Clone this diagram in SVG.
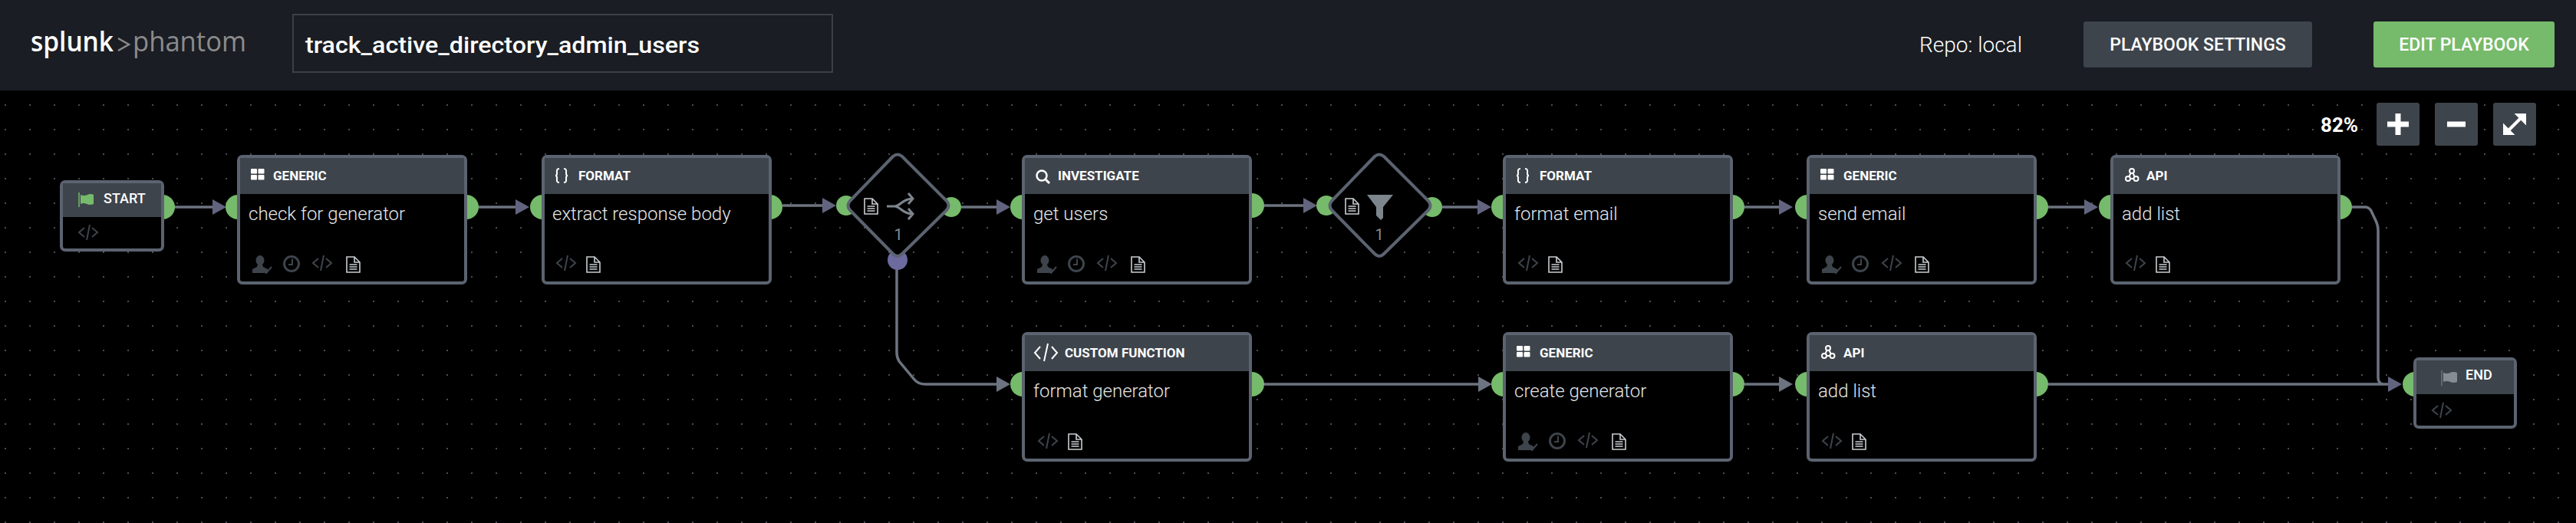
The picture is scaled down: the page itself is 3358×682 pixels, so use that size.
<svg xmlns="http://www.w3.org/2000/svg" width="3358" height="682" viewBox="0 0 3358 682">
<style>
text{font-family:Roboto,"Liberation Sans",sans-serif}
.box{fill:#000;stroke:#5c6370;stroke-width:4}
.hd{fill:#3e444c}
.kind{fill:#fff;font-size:17px;font-weight:700}
.se{fill:#fff;font-size:18px;font-weight:500}
.name{fill:#e4e6e8;font-size:24px;font-weight:300}
.port{fill:#76ba6b}
.wire{fill:none;stroke:#6d7380;stroke-width:3.5}
.dia{fill:#000;stroke:#5c6370;stroke-width:4;stroke-linejoin:round}
.num{fill:#868c93;font-size:20px;text-anchor:middle}
.code{fill:none;stroke:#3e444c;stroke-width:2}
.doc{fill:none;stroke:#c9cdd1;stroke-width:1.6}
.dim{fill:#3e444c}
.btxt{fill:#fff;font-size:23px;font-weight:500;text-anchor:middle}
.tb{fill:#3e444c}
</style>
<defs>
<pattern id="dots" x="0" y="0" width="32" height="32" patternUnits="userSpaceOnUse"><rect x="6" y="8" width="2" height="2" fill="#4a4d52"/></pattern>
<marker id="ap" markerUnits="userSpaceOnUse" markerWidth="20" markerHeight="22" refX="2" refY="10" orient="auto"><path d="M0 0L18 10L0 20Z" fill="#62647f"/></marker>
<marker id="ag" markerUnits="userSpaceOnUse" markerWidth="20" markerHeight="22" refX="2" refY="10" orient="auto"><path d="M0 0L18 10L0 20Z" fill="#6d7380"/></marker>
<g id="i-code" class="code"><path d="M8 4L1 10L8 16M18 4L25 10L18 16M15 0L11 20"/></g>
<g id="i-doc" class="doc"><path d="M1 1H11L18 8V21H1ZM11 1V8H18M4.500 11H14.500M4.500 14H14.500M4.500 17H14.500"/></g>
<g id="i-user"><ellipse class="dim" cx="10" cy="6.500" rx="5.500" ry="6.500"/><path class="dim" d="M7 12H13L14 15L20 18V23H0V18L6 15Z"/><path d="M14 19L18 23L25 15" fill="none" stroke="#3e444c" stroke-width="2"/></g>
<g id="i-clock" fill="none" stroke="#3e444c"><circle cx="11" cy="11" r="9.500" stroke-width="3"/><path d="M12 4.500V12H7" stroke-width="2"/></g>
<g id="i-grid" fill="#fff"><rect width="8" height="6.500" rx="1"/><rect x="9.500" width="8" height="6.500" rx="1"/><rect y="8" width="8" height="6.500" rx="1"/><rect x="9.500" y="8" width="8" height="6.500" rx="1"/></g>
<g id="i-brace" fill="none" stroke="#fff" stroke-width="2"><path d="M6 1C2 1 3 4 3 7C3 9 2 10 1 10C2 10 3 11 3 13C3 16 2 19 6 19M12 1C16 1 15 4 15 7C15 9 16 10 17 10C16 10 15 11 15 13C15 16 16 19 12 19"/></g>
<g id="i-api" fill="none" stroke="#fff" stroke-width="2"><circle cx="9" cy="4" r="3"/><circle cx="4" cy="14" r="3"/><circle cx="14.500" cy="14" r="3"/><path d="M7.500 7L5.500 11M10.500 7L12.500 11M7 14H11.500"/></g>
</defs>

<rect x="0" y="0" width="3358" height="682" fill="#000"/>
<rect x="0" y="118" width="3358" height="564" fill="url(#dots)"/>

<g id="header">
<rect x="0" y="0" width="3358" height="118" fill="#1a1d23"/>
<text x="40" y="67" font-size="36" font-weight="600" fill="#fff" textLength="108" lengthAdjust="spacingAndGlyphs" style="font-family:'Open Sans',sans-serif">splunk</text>
<path d="M154 50L168 58L154 66" fill="none" stroke="#8a8a8a" stroke-width="2.500"/>
<text x="173" y="67" font-size="36" fill="#8c8c8c" textLength="148" lengthAdjust="spacingAndGlyphs" style="font-family:'Open Sans',sans-serif">phantom</text>
<rect x="382" y="19" width="703" height="75" fill="none" stroke="#3b4047" stroke-width="2"/>
<text x="398" y="69" font-size="30" font-weight="500" fill="#fff" textLength="514" lengthAdjust="spacingAndGlyphs">track_active_directory_admin_users</text>
<text x="2502" y="68" font-size="28" font-weight="300" fill="#fff">Repo: local</text>
<rect x="2716" y="28" width="298" height="60" rx="3" fill="#3e444c"/>
<text class="btxt" x="2865" y="66">PLAYBOOK SETTINGS</text>
<rect x="3094" y="28" width="236" height="60" rx="3" fill="#76ba6b"/>
<text class="btxt" x="3212" y="66">EDIT PLAYBOOK</text>
</g>

<g id="zoom-controls">
<text x="3025" y="172" font-size="26" font-weight="700" fill="#fff">82%</text>
<rect class="tb" x="3098" y="134" width="56" height="56" rx="3"/>
<path d="M3126 148V176M3112 162H3140" stroke="#fff" stroke-width="7" fill="none"/>
<rect class="tb" x="3174" y="134" width="56" height="56" rx="3"/>
<path d="M3190 162H3214" stroke="#fff" stroke-width="7" fill="none"/>
<rect class="tb" x="3250" y="134" width="56" height="56" rx="3"/>
<path d="M3268 172L3288 152" stroke="#fff" stroke-width="4" fill="none"/>
<path d="M3280 149H3292V161ZM3264 163V175H3276Z" fill="#fff" stroke="#fff" stroke-width="2"/>
</g>

<g id="connectors">
<path class="wire" marker-end="url(#ap)" d="M228 270H279"/>
<path class="wire" marker-end="url(#ap)" d="M624 270H674"/>
<path class="wire" marker-end="url(#ap)" d="M1020 268H1074"/>
<path class="wire" marker-end="url(#ap)" d="M1253 270H1301"/>
<path class="wire" marker-end="url(#ap)" d="M1648 268H1701"/>
<path class="wire" marker-end="url(#ap)" d="M1880 270H1928"/>
<path class="wire" marker-end="url(#ap)" d="M2274 270H2321"/>
<path class="wire" marker-end="url(#ap)" d="M2670 270H2719"/>
<path class="wire" marker-end="url(#ag)" d="M1169 350V460Q1169 466 1172 471L1192 495Q1197 501 1206 501H1301"/>
<path class="wire" marker-end="url(#ag)" d="M1646 501H1929"/>
<path class="wire" marker-end="url(#ag)" d="M2274 501H2321"/>
<path class="wire" d="M3066 270H3083Q3088 270 3091 275L3098 290Q3100 295 3100 300V492Q3100 500 3106 501"/>
<path class="wire" marker-end="url(#ap)" d="M2670 501H3115"/>
</g>

<g id="node-start">
<circle class="port" cx="212" cy="270" r="16"/>
<rect class="box" x="80" y="237" width="132" height="89" rx="5"/>
<path class="hd" d="M82 239H210V283H82Z"/>
<path d="M103 251V270" stroke="#76ba6b" stroke-width="1.500"/><path d="M105 254Q110 256 114 254T122 254V266Q117 268 113 266T105 266Z" fill="#76ba6b"/>
<text class="se" x="135" y="265">START</text>
<use href="#i-code" x="102" y="293"/>
</g>

<g id="node-check-for-generator">
<circle class="port" cx="310" cy="270" r="16"/><circle class="port" cx="608" cy="270" r="16"/>
<rect class="box" x="311" y="204" width="296" height="165" rx="5"/>
<path class="hd" d="M313 206H605V253H313Z"/>
<use href="#i-grid" x="327" y="220"/>
<text class="kind" x="356" y="235">GENERIC</text>
<text class="name" x="324" y="287">check for generator</text>
<use href="#i-user" x="329" y="333"/><use href="#i-clock" x="369" y="333"/><use href="#i-code" x="407" y="333"/><use href="#i-doc" x="451" y="334"/>
</g>

<g id="node-extract-response-body">
<circle class="port" cx="707" cy="270" r="16"/><circle class="port" cx="1004" cy="270" r="16"/>
<rect class="box" x="708" y="204" width="296" height="165" rx="5"/>
<path class="hd" d="M710 206H1002V253H710Z"/>
<use href="#i-brace" x="723" y="219"/>
<text class="kind" x="754" y="235">FORMAT</text>
<text class="name" x="720" y="287">extract response body</text>
<use href="#i-code" x="725" y="333"/><use href="#i-doc" x="764" y="334"/>
</g>

<g id="node-decision">
<circle class="port" cx="1103" cy="268" r="13"/><circle class="port" cx="1240" cy="270" r="13"/>
<circle cx="1170" cy="339" r="13" fill="#6c6a9f"/>
<path class="dia" d="M1164 204Q1170 199 1176 204L1234 262Q1239 268 1234 274L1176 331Q1170 337 1164 331L1108 274Q1103 268 1108 262Z"/>
<use href="#i-doc" x="1126" y="258"/>
<path d="M1156 269H1166C1174 269 1176 259 1190 259M1166 269C1174 269 1176 279 1190 279M1184 252L1190 259L1184 266M1184 272L1190 279L1184 286" fill="none" stroke="#7d858d" stroke-width="3"/>
<text class="num" x="1171" y="313">1</text>
</g>

<g id="node-get-users">
<circle class="port" cx="1333" cy="270" r="16"/><circle class="port" cx="1632" cy="268" r="16"/>
<rect class="box" x="1334" y="204" width="296" height="165" rx="5"/>
<path class="hd" d="M1336 206H1628V253H1336Z"/>
<circle cx="1358" cy="229" r="6.500" fill="none" stroke="#fff" stroke-width="2.500"/><path d="M1363 234L1368 239" stroke="#fff" stroke-width="3"/>
<text class="kind" x="1379" y="235">INVESTIGATE</text>
<text class="name" x="1347" y="287">get users</text>
<use href="#i-user" x="1352" y="333"/><use href="#i-clock" x="1392" y="333"/><use href="#i-code" x="1430" y="333"/><use href="#i-doc" x="1474" y="334"/>
</g>

<g id="node-format-generator">
<circle class="port" cx="1333" cy="501" r="16"/><circle class="port" cx="1632" cy="501" r="16"/>
<rect class="box" x="1334" y="435" width="296" height="165" rx="5"/>
<path class="hd" d="M1336 437H1628V484H1336Z"/>
<path d="M1356 452L1349 460L1356 468M1371 452L1378 460L1371 468M1366 448L1361 471" fill="none" stroke="#fff" stroke-width="2"/>
<text class="kind" x="1388" y="466">CUSTOM FUNCTION</text>
<text class="name" x="1347" y="518">format generator</text>
<use href="#i-code" x="1353" y="565"/><use href="#i-doc" x="1392" y="565"/>
</g>

<g id="node-filter">
<circle class="port" cx="1729" cy="268" r="13"/><circle class="port" cx="1867" cy="270" r="13"/>
<path class="dia" d="M1792 204Q1798 199 1804 204L1862 262Q1867 268 1862 274L1804 331Q1798 337 1792 331L1736 274Q1731 268 1736 262Z"/>
<use href="#i-doc" x="1753" y="258"/>
<path d="M1782 254H1816L1803 270V284L1800 287L1794 281V270Z" fill="#7d858d"/>
<text class="num" x="1798" y="313">1</text>
</g>

<g id="node-format-email">
<circle class="port" cx="1960" cy="270" r="16"/><circle class="port" cx="2258" cy="270" r="16"/>
<rect class="box" x="1961" y="204" width="296" height="165" rx="5"/>
<path class="hd" d="M1963 206H2255V253H1963Z"/>
<use href="#i-brace" x="1976" y="219"/>
<text class="kind" x="2007" y="235">FORMAT</text>
<text class="name" x="1974" y="287">format email</text>
<use href="#i-code" x="1979" y="333"/><use href="#i-doc" x="2018" y="334"/>
</g>

<g id="node-create-generator">
<circle class="port" cx="1960" cy="501" r="16"/><circle class="port" cx="2258" cy="501" r="16"/>
<rect class="box" x="1961" y="435" width="296" height="165" rx="5"/>
<path class="hd" d="M1963 437H2255V484H1963Z"/>
<use href="#i-grid" x="1977" y="451"/>
<text class="kind" x="2007" y="466">GENERIC</text>
<text class="name" x="1974" y="518">create generator</text>
<use href="#i-user" x="1979" y="564"/><use href="#i-clock" x="2019" y="564"/><use href="#i-code" x="2057" y="564"/><use href="#i-doc" x="2101" y="565"/>
</g>

<g id="node-send-email">
<circle class="port" cx="2356" cy="270" r="16"/><circle class="port" cx="2654" cy="270" r="16"/>
<rect class="box" x="2357" y="204" width="296" height="165" rx="5"/>
<path class="hd" d="M2359 206H2651V253H2359Z"/>
<use href="#i-grid" x="2373" y="220"/>
<text class="kind" x="2403" y="235">GENERIC</text>
<text class="name" x="2370" y="287">send email</text>
<use href="#i-user" x="2375" y="333"/><use href="#i-clock" x="2414" y="333"/><use href="#i-code" x="2453" y="333"/><use href="#i-doc" x="2496" y="334"/>
</g>

<g id="node-add-list-1">
<circle class="port" cx="2752" cy="270" r="16"/><circle class="port" cx="3050" cy="270" r="16"/>
<rect class="box" x="2753" y="204" width="296" height="165" rx="5"/>
<path class="hd" d="M2755 206H3047V253H2755Z"/>
<use href="#i-api" x="2770" y="219"/>
<text class="kind" x="2798" y="235">API</text>
<text class="name" x="2766" y="287">add list</text>
<use href="#i-code" x="2771" y="333"/><use href="#i-doc" x="2810" y="334"/>
</g>

<g id="node-add-list-2">
<circle class="port" cx="2356" cy="501" r="16"/><circle class="port" cx="2654" cy="501" r="16"/>
<rect class="box" x="2357" y="435" width="296" height="165" rx="5"/>
<path class="hd" d="M2359 437H2651V484H2359Z"/>
<use href="#i-api" x="2374" y="450"/>
<text class="kind" x="2403" y="466">API</text>
<text class="name" x="2370" y="518">add list</text>
<use href="#i-code" x="2375" y="565"/><use href="#i-doc" x="2414" y="565"/>
</g>

<g id="node-end">
<circle class="port" cx="3148" cy="501" r="16"/>
<rect class="box" x="3148" y="468" width="131" height="89" rx="5"/>
<path class="hd" d="M3150 470H3277V514H3150Z"/>
<path d="M3183 483V503" stroke="#6d7380" stroke-width="1.500"/><path d="M3185 486Q3190 488 3194 486T3203 486V498Q3198 500 3194 498T3185 498Z" fill="#868c93"/>
<text class="se" x="3214" y="495">END</text>
<use href="#i-code" x="3170" y="525"/>
</g>
</svg>
